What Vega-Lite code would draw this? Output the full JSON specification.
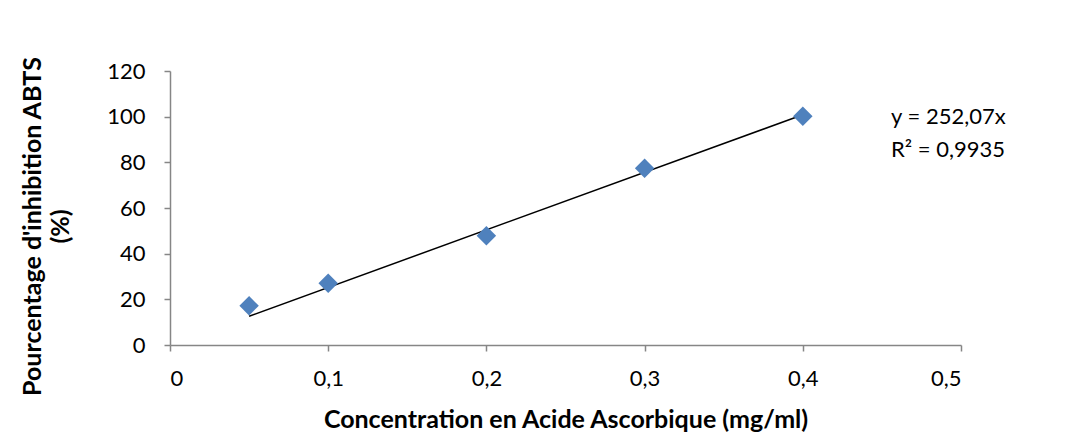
{
  "$schema": "https://vega.github.io/schema/vega-lite/v6.json",
  "width": 791,
  "height": 274,
  "autosize": {"type": "none"},
  "padding": {"left": 170, "top": 71, "right": 117, "bottom": 101},
  "background": "white",
  "config": {
    "view": {"stroke": null},
    "font": "Lato",
    "axis": {
      "domainColor": "#868686",
      "tickColor": "#868686",
      "domainWidth": 1.5,
      "tickWidth": 1.5,
      "tickSize": 6,
      "grid": false,
      "labelColor": "#000000",
      "labelFont": "Lato",
      "labelFontSize": 22,
      "titleFont": "Lato",
      "titleFontWeight": "bold",
      "titleFontSize": 25,
      "titleColor": "#000000"
    }
  },
  "datasets": {
    "points": [
      {"conc": 0.05, "inhib": 17.2},
      {"conc": 0.1, "inhib": 27.0},
      {"conc": 0.2, "inhib": 47.8},
      {"conc": 0.3, "inhib": 77.4},
      {"conc": 0.4, "inhib": 100.2}
    ],
    "trend": [
      {"conc": 0.05, "inhib": 12.6},
      {"conc": 0.4, "inhib": 100.83}
    ],
    "labels": [
      {"conc": 0.4558, "inhib": 99.9, "label": "y = 252,07x"},
      {"conc": 0.4558, "inhib": 85.4, "label": "R² = 0,9935"}
    ]
  },
  "layer": [
    {
      "data": {"name": "trend"},
      "mark": {"type": "line", "color": "#000000", "strokeWidth": 1.5},
      "encoding": {
        "x": {
          "field": "conc", "type": "quantitative",
          "scale": {"domain": [0, 0.5], "nice": false, "zero": false},
          "axis": {
            "values": [0, 0.1, 0.2, 0.3, 0.4, 0.5],
            "labelExpr": "datum.value == 0 ? '0' : replace(format(datum.value, '.1f'), '.', ',')",
            "labelPadding": 17,
            "title": "Concentration en Acide Ascorbique (mg/ml)",
            "titlePadding": 18
          }
        },
        "y": {
          "field": "inhib", "type": "quantitative",
          "scale": {"domain": [0, 120], "nice": false},
          "axis": {
            "values": [0, 20, 40, 60, 80, 100, 120],
            "labelPadding": 19,
            "title": ["Pourcentage d'inhibition ABTS", "(%)"],
            "titleFontSize": 25,
            "titleLineHeight": 28,
            "titlePadding": 33,
            "titleY": 155
          }
        }
      }
    },
    {
      "data": {"name": "points"},
      "mark": {"type": "point", "shape": "diamond", "filled": true, "color": "#4F81BD", "opacity": 1, "size": 380},
      "encoding": {
        "x": {"field": "conc", "type": "quantitative"},
        "y": {"field": "inhib", "type": "quantitative"}
      }
    },
    {
      "data": {"name": "labels"},
      "mark": {"type": "text", "align": "left", "baseline": "middle", "fontSize": 22, "font": "Lato", "color": "#000000"},
      "encoding": {
        "x": {"field": "conc", "type": "quantitative"},
        "y": {"field": "inhib", "type": "quantitative"},
        "text": {"field": "label"}
      }
    }
  ]
}
